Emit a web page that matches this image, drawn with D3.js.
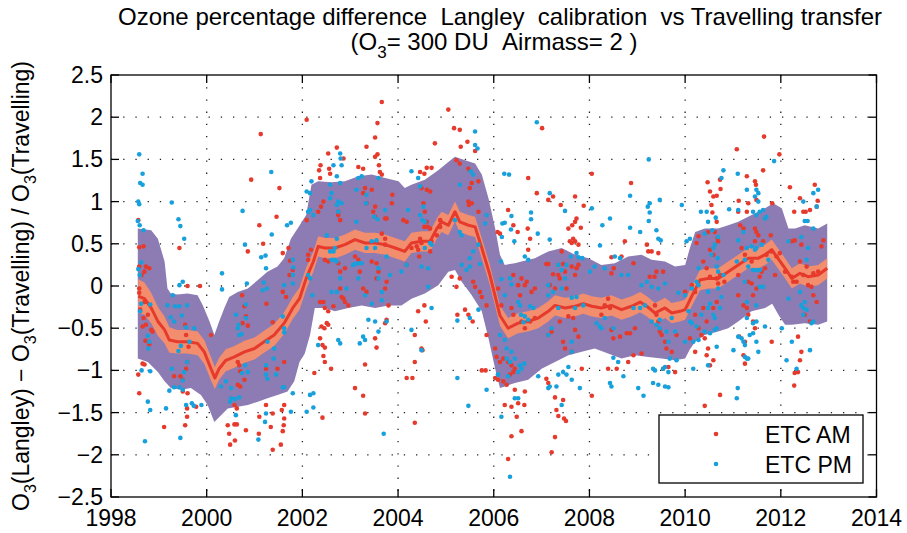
<!DOCTYPE html>
<html>
<head>
<meta charset="utf-8">
<script src="https://cdn.jsdelivr.net/npm/d3@7"></script>
<style>
  body { margin: 0; background: #fff; }
  text { font-family: "Liberation Sans", Arial, Helvetica, sans-serif; fill: #000; }
</style>
</head>
<body>
<script>
// median curve (running) and its narrow band
const medT = [1998.57,1998.70,1998.84,1998.98,1999.12,1999.22,1999.39,1999.60,1999.81,1999.95,2000.09,2000.17,2000.26,2000.40,2000.58,2000.79,2001.00,2001.20,2001.41,2001.62,2001.80,2001.94,2002.08,2002.23,2002.33,2002.47,2002.68,2002.89,2003.10,2003.31,2003.52,2003.73,2003.94,2004.14,2004.28,2004.49,2004.67,2004.81,2004.91,2005.05,2005.19,2005.29,2005.47,2005.61,2005.75,2005.92,2006.13,2006.30,2006.51,2006.72,2006.93,2007.14,2007.28,2007.49,2007.70,2007.87,2008.05,2008.25,2008.46,2008.67,2008.88,2009.06,2009.20,2009.37,2009.58,2009.72,2009.89,2010.00,2010.14,2010.31,2010.48,2010.69,2010.90,2011.11,2011.32,2011.53,2011.67,2011.81,2011.91,2012.09,2012.23,2012.40,2012.57,2012.78,2012.97]
const medV = [-0.12,-0.15,-0.26,-0.42,-0.52,-0.64,-0.66,-0.66,-0.68,-0.78,-0.98,-1.09,-0.98,-0.88,-0.84,-0.78,-0.74,-0.66,-0.58,-0.44,-0.26,-0.15,0.09,0.29,0.47,0.45,0.45,0.49,0.55,0.51,0.51,0.49,0.45,0.41,0.51,0.53,0.53,0.68,0.76,0.72,0.88,0.76,0.72,0.70,0.45,0.13,-0.35,-0.50,-0.44,-0.42,-0.38,-0.30,-0.23,-0.26,-0.24,-0.21,-0.24,-0.26,-0.23,-0.28,-0.24,-0.19,-0.24,-0.32,-0.26,-0.32,-0.30,-0.28,-0.12,0.07,0.09,0.09,0.17,0.25,0.33,0.33,0.37,0.43,0.35,0.21,0.09,0.15,0.11,0.13,0.21]
const medHalf = [0.20,0.19,0.18,0.17,0.16,0.15,0.14,0.14,0.14,0.14,0.14,0.13,0.13,0.13,0.13,0.13,0.13,0.13,0.13,0.13,0.13,0.13,0.13,0.12,0.12,0.12,0.12,0.12,0.12,0.12,0.12,0.12,0.12,0.12,0.12,0.12,0.12,0.12,0.12,0.12,0.12,0.12,0.12,0.12,0.12,0.12,0.12,0.12,0.12,0.12,0.12,0.12,0.12,0.12,0.12,0.12,0.12,0.12,0.12,0.12,0.12,0.12,0.12,0.12,0.12,0.12,0.12,0.12,0.12,0.12,0.12,0.12,0.12,0.12,0.12,0.12,0.12,0.12,0.12,0.12,0.12,0.12,0.12,0.12,0.12]

// wide band (upper and lower envelope)
const upT = [1998.56,1998.84,1998.98,1999.12,1999.18,1999.25,1999.39,1999.60,1999.81,1999.92,2000.06,2000.16,2000.26,2000.37,2000.47,2000.65,2000.86,2001.07,2001.27,2001.48,2001.62,2001.76,2001.90,2002.08,2002.19,2002.33,2002.61,2002.89,2003.17,2003.45,2003.73,2004.01,2004.14,2004.28,2004.56,2004.84,2005.05,2005.19,2005.40,2005.61,2005.75,2005.89,2006.03,2006.13,2006.23,2006.44,2006.58,2006.86,2007.14,2007.42,2007.70,2007.98,2008.25,2008.53,2008.81,2009.09,2009.30,2009.58,2009.79,2010.00,2010.10,2010.21,2010.41,2010.69,2010.90,2011.11,2011.39,2011.67,2011.84,2012.02,2012.16,2012.30,2012.50,2012.78,2012.97]
const upV = [0.68,0.66,0.56,0.29,-0.03,-0.09,-0.10,-0.09,-0.11,-0.23,-0.42,-0.58,-0.42,-0.26,-0.13,-0.07,-0.03,0.07,0.17,0.23,0.33,0.56,0.68,0.84,1.20,1.24,1.23,1.24,1.30,1.32,1.28,1.24,1.16,1.20,1.26,1.37,1.47,1.53,1.49,1.45,1.32,1.04,0.68,0.37,0.25,0.27,0.29,0.33,0.41,0.45,0.37,0.33,0.25,0.27,0.35,0.37,0.31,0.29,0.23,0.25,0.45,0.64,0.68,0.68,0.72,0.76,0.84,0.92,0.98,0.92,0.68,0.68,0.72,0.68,0.74]
const loT = [1998.56,1998.77,1998.98,1999.12,1999.25,1999.46,1999.67,1999.88,2000.02,2000.16,2000.30,2000.44,2000.65,2000.86,2001.07,2001.27,2001.48,2001.69,2001.83,2001.94,2002.05,2002.16,2002.26,2002.47,2002.68,2002.96,2003.24,2003.52,2003.80,2004.07,2004.28,2004.56,2004.84,2005.05,2005.19,2005.33,2005.54,2005.75,2005.89,2006.03,2006.13,2006.23,2006.44,2006.72,2007.00,2007.28,2007.56,2007.84,2008.11,2008.39,2008.67,2008.95,2009.23,2009.51,2009.79,2010.00,2010.10,2010.21,2010.41,2010.69,2010.90,2011.11,2011.39,2011.67,2011.82,2011.95,2012.09,2012.23,2012.50,2012.78,2012.97]
const loV = [-0.86,-0.90,-1.02,-1.13,-1.21,-1.23,-1.21,-1.29,-1.41,-1.61,-1.53,-1.45,-1.43,-1.41,-1.37,-1.33,-1.29,-1.25,-1.13,-0.90,-0.80,-0.58,-0.26,-0.26,-0.30,-0.26,-0.23,-0.26,-0.23,-0.23,-0.15,-0.09,0.01,0.17,0.19,0.05,-0.11,-0.30,-0.62,-0.98,-1.21,-1.19,-1.15,-1.11,-0.98,-0.90,-0.82,-0.78,-0.74,-0.80,-0.86,-0.82,-0.84,-0.86,-0.88,-0.86,-0.75,-0.66,-0.58,-0.54,-0.50,-0.42,-0.30,-0.26,-0.21,-0.34,-0.46,-0.46,-0.44,-0.46,-0.42]

// ETC AM points [year, difference]
const etcAM = [
[1998.57,0.78],[1998.59,0.46],[1998.68,0.47],[1998.59,0.23],[1998.70,0.17],[1998.64,0.13],[1998.73,0.23],[1998.80,0.21],[1998.59,-0.03],[1998.59,-0.08],[1998.61,-0.28],[1998.70,-0.19],[1998.77,-0.34],[1998.68,-0.38],[1998.66,-0.48],[1998.73,-0.46],[1998.84,-0.52],[1998.87,-0.54],[1998.72,-0.65],[1998.80,-0.69],[1998.66,-0.92],[1998.70,-0.93],[1998.57,-1.05],[1998.59,-1.27],[1999.43,0.45],[1999.60,0.00],[1999.86,0.00],[1999.11,-1.67],[1999.55,-1.65],[1999.59,-1.55],[1999.50,-1.25],[1999.60,-1.27],[1999.59,-1.45],[1999.32,-1.07],[1999.45,-1.07],[1999.50,-1.11],[1999.57,-0.98],[1999.59,-0.90],[1999.78,-1.43],[1999.62,-0.72],[1999.57,-0.58],[1999.55,-0.46],[2000.09,-0.58],[2000.93,1.26],[2001.13,1.80],[2001.52,1.16],[2001.46,0.82],[2001.10,0.72],[2001.18,0.50],[2000.86,0.41],[2001.59,0.39],[2001.71,0.45],[2001.74,0.30],[2001.73,0.13],[2001.80,0.19],[2001.66,-0.13],[2001.59,-0.07],[2001.25,-0.21],[2001.38,-0.43],[2000.74,-0.11],[2000.79,-0.24],[2000.82,-0.36],[2000.75,-0.44],[2000.86,-0.47],[2000.65,-0.90],[2000.68,-0.94],[2000.70,-1.01],[2000.65,-1.17],[2000.70,-1.19],[2000.79,-1.11],[2000.58,-1.41],[2000.63,-1.45],[2000.44,-1.65],[2000.58,-1.64],[2000.63,-1.64],[2000.47,-1.75],[2000.49,-1.88],[2000.59,-1.83],[2000.82,-1.71],[2001.09,-1.75],[2001.10,-1.55],[2001.34,-1.67],[2001.24,-0.98],[2001.48,-0.98],[2001.62,-0.90],[2001.62,-1.57],[2001.59,-1.72],[2001.55,-1.88],[2001.38,-1.94],[2001.57,-1.47],[2001.62,-1.41],[2001.61,-1.65],[2001.24,-1.41],[2001.38,-1.51],
[2003.66,2.18],[2002.09,1.97],[2005.05,2.09],[2003.57,1.93],[2005.17,1.87],[2005.29,1.85],[2003.52,1.76],[2003.34,1.65],[2002.72,1.64],[2002.54,1.57],[2002.86,1.51],[2004.77,1.69],[2005.31,1.65],[2005.45,1.71],[2005.61,1.60],[2003.52,1.53],[2003.57,1.56],[2002.38,1.43],[2002.35,1.37],[2002.37,1.28],[2002.56,1.39],[2002.58,1.33],[2003.17,1.41],[2003.27,1.39],[2003.60,1.43],[2003.62,1.35],[2003.66,1.32],[2003.31,1.16],[2003.45,1.14],[2004.46,1.35],[2004.55,1.33],[2004.60,1.40],[2004.70,1.40],[2004.49,1.16],[2004.60,1.14],[2004.67,1.12],[2005.22,1.49],[2005.29,1.45],[2005.47,1.39],[2005.68,1.24],[2005.54,1.22],[2005.50,1.16],[2002.09,0.78],[2002.33,0.88],[2002.39,0.94],[2002.44,1.00],[2002.75,0.84],[2002.79,0.78],[2002.75,0.88],[2003.27,1.10],[2003.34,0.98],[2003.52,0.94],[2003.48,0.88],[2003.52,0.82],[2003.73,0.80],[2003.76,0.80],[2003.87,0.98],[2003.88,1.08],[2004.11,0.78],[2004.18,0.76],[2004.53,0.98],[2004.56,0.88],[2004.60,0.76],[2004.55,0.70],[2004.62,0.70],[2004.67,0.68],[2004.88,0.78],[2004.88,0.70],[2005.47,1.00],[2005.48,0.96],[2005.54,0.98],[2005.68,0.88],[2002.12,0.37],[2002.18,0.43],[2002.12,0.31],[2002.47,0.31],[2002.54,0.29],[2002.75,0.27],[2002.89,0.21],[2002.79,0.17],[2003.10,0.35],[2003.17,0.31],[2003.20,0.17],[2003.45,0.29],[2003.55,0.27],[2003.59,0.17],[2003.76,0.05],[2003.66,0.62],[2003.73,0.56],[2003.73,0.49],[2004.18,0.25],[2004.28,0.45],[2004.39,0.47],[2004.42,0.43],[2004.44,0.35],[2004.46,0.56],[2004.49,0.51],[2004.67,0.41],[2004.70,0.53],[2004.81,0.60],[2005.12,0.11],[2005.22,-0.01],[2005.29,0.09],[2005.57,0.05],[2005.61,-0.01],[2005.71,-0.07],[2005.75,-0.13],[2005.85,-0.23],[2002.37,-0.19],[2002.44,-0.19],[2002.47,-0.26],[2002.54,-0.30],[2002.65,-0.24],[2002.79,-0.03],[2002.82,-0.13],[2002.86,-0.15],[2002.89,-0.19],[2002.96,-0.23],[2003.27,-0.03],[2003.34,-0.07],[2003.55,0.09],[2003.73,-0.03],[2003.80,-0.23],[2002.40,-0.48],[2002.46,-0.50],[2002.51,-0.44],[2002.54,-0.46],[2002.37,-0.62],[2002.42,-0.70],[2002.47,-0.73],[2002.44,-0.83],[2002.47,-0.90],[2002.25,-1.03],[2002.60,-0.98],[2003.73,-0.44],[2003.76,-0.40],[2003.52,-0.62],[2003.55,-0.73],[2003.31,-0.93],[2003.10,-1.21],[2003.27,-1.30],[2003.31,-1.51],[2002.42,-1.56],[2004.35,-0.58],[2004.49,-0.74],[2004.51,-0.76],[2004.35,-0.90],[2004.18,-1.09],[2004.30,-1.09],[2004.42,-0.30],[2004.55,-0.23],[2004.58,-0.42],[2005.24,-0.34],[2005.40,-0.28],[2005.47,-0.34],[2005.56,-0.42],[2005.75,-1.00],[2005.83,-1.00],[2005.85,-0.58],[2004.35,-1.62],
[2007.01,1.87],[2008.05,1.33],[2008.87,1.22],[2006.72,1.28],[2006.90,1.10],[2007.14,1.02],[2007.24,1.06],[2007.40,0.96],[2007.70,1.06],[2007.88,0.95],[2006.30,0.90],[2006.41,0.72],[2006.50,0.64],[2006.71,0.68],[2006.76,0.56],[2006.72,0.43],[2006.08,0.64],[2006.13,0.62],[2007.56,0.68],[2007.64,0.72],[2007.70,0.76],[2007.73,0.80],[2007.82,0.69],[2007.59,0.53],[2007.66,0.56],[2007.70,0.53],[2007.63,0.51],[2007.77,0.49],[2007.42,0.41],[2008.46,0.34],[2008.51,0.21],[2008.46,0.15],[2008.74,0.53],[2008.67,0.35],[2008.92,0.27],[2009.20,0.49],[2009.23,0.41],[2009.30,0.41],[2009.44,0.39],[2009.54,0.17],[2007.10,0.26],[2007.14,0.26],[2007.24,0.14],[2007.35,0.13],[2007.45,0.26],[2007.49,0.17],[2007.63,0.23],[2006.41,0.13],[2006.58,0.09],[2006.51,0.01],[2006.55,-0.11],[2006.65,0.01],[2006.69,0.05],[2006.79,-0.07],[2006.86,-0.03],[2007.17,0.01],[2007.28,-0.03],[2007.38,0.09],[2007.52,-0.03],[2007.70,0.13],[2007.73,0.21],[2007.77,0.25],[2006.16,-0.23],[2006.09,-0.03],[2006.37,-0.26],[2006.41,-0.34],[2006.58,-0.42],[2006.65,-0.50],[2006.76,-0.42],[2006.86,-0.38],[2007.14,-0.58],[2007.21,-0.54],[2007.45,-0.66],[2007.49,-0.74],[2007.63,-0.78],[2007.70,-0.52],[2007.77,-0.60],[2007.38,-0.42],[2007.56,-0.36],[2007.66,-0.38],[2008.25,-0.34],[2008.43,-0.26],[2008.46,-0.52],[2008.50,-0.62],[2008.64,-0.60],[2008.78,-0.56],[2008.85,-0.56],[2008.95,-0.50],[2008.32,-0.23],[2008.39,-0.15],[2009.37,-0.23],[2009.40,-0.34],[2009.44,-0.42],[2009.47,-0.54],[2009.51,-0.58],[2009.58,-0.66],[2009.61,-0.74],[2009.72,-0.78],[2009.82,-0.58],[2009.26,0.11],[2009.36,0.11],[2009.40,0.17],[2006.03,-0.74],[2006.06,-0.84],[2006.13,-0.90],[2006.20,-0.86],[2006.30,-0.90],[2006.37,-0.94],[2006.44,-0.98],[2006.34,-1.05],[2006.41,-1.02],[2006.03,-1.09],[2006.09,-1.11],[2006.20,-1.13],[2006.27,-1.17],[2006.44,-1.23],[2006.65,-1.25],[2006.23,-1.41],[2006.37,-1.43],[2006.51,-1.39],[2006.64,-1.41],[2006.48,-1.55],[2006.37,-1.78],[2006.58,-1.72],[2006.30,-2.05],[2007.10,-1.10],[2007.14,-1.15],[2007.28,-1.32],[2007.31,-1.47],[2007.35,-1.54],[2007.45,-1.35],[2007.47,-1.57],[2007.51,-1.60],[2007.28,-1.79],[2007.21,-1.97],[2007.84,-0.98],[2008.05,-1.30],[2008.39,-0.98],[2008.57,-0.98],[2008.81,-0.90],[2008.92,-0.82],[2009.09,-0.80],[2009.54,-0.98],[2009.65,-0.96],[2009.79,-1.02],
[2011.65,1.77],[2011.08,1.62],[2011.97,1.56],[2011.63,1.37],[2011.29,1.30],[2011.46,1.24],[2011.48,1.20],[2010.47,1.23],[2010.73,1.26],[2010.52,1.12],[2010.59,1.06],[2010.66,1.07],[2010.74,1.15],[2010.55,0.96],[2010.57,0.87],[2011.12,1.01],[2011.32,0.98],[2011.49,1.02],[2011.82,0.98],[2012.19,1.17],[2012.40,1.04],[2012.28,0.88],[2012.47,0.88],[2012.52,0.88],[2012.61,0.90],[2012.71,1.20],[2012.77,1.01],[2012.75,0.94],[2010.28,0.59],[2010.24,0.51],[2010.48,0.64],[2010.66,0.76],[2010.62,0.64],[2010.68,0.57],[2010.69,0.53],[2010.52,0.43],[2010.59,0.37],[2011.11,0.88],[2011.29,0.88],[2011.15,0.72],[2011.22,0.68],[2011.46,0.68],[2011.49,0.64],[2011.53,0.60],[2011.46,0.53],[2011.63,0.53],[2011.79,0.60],[2011.18,0.45],[2011.25,0.37],[2011.39,0.29],[2011.70,0.37],[2011.81,0.41],[2011.91,0.35],[2011.98,0.39],[2012.23,0.53],[2012.29,0.54],[2012.43,0.49],[2012.40,0.29],[2012.54,0.23],[2012.68,0.15],[2012.78,0.17],[2012.85,0.47],[2012.89,0.54],[2010.38,0.29],[2010.45,0.21],[2010.52,0.11],[2010.66,0.09],[2010.69,0.03],[2010.73,0.13],[2010.82,0.05],[2011.11,0.13],[2011.32,0.05],[2011.39,0.03],[2011.42,-0.11],[2011.49,-0.03],[2011.56,0.11],[2011.60,0.17],[2011.67,0.21],[2011.88,0.13],[2012.09,0.17],[2012.23,0.11],[2012.26,0.05],[2012.33,0.05],[2012.47,0.13],[2012.57,0.01],[2012.64,-0.01],[2012.68,-0.11],[2012.75,-0.19],[2010.00,-0.07],[2010.14,0.01],[2010.21,-0.07],[2010.38,-0.26],[2010.45,-0.42],[2010.59,-0.26],[2010.66,-0.19],[2011.11,-0.11],[2011.22,-0.23],[2011.29,-0.26],[2011.32,-0.34],[2011.42,-0.42],[2011.46,-0.50],[2010.21,-0.34],[2010.28,-0.50],[2010.10,-0.62],[2010.21,-0.78],[2010.34,-0.58],[2010.48,-0.74],[2010.52,-0.94],[2010.59,-0.88],[2010.45,-0.82],[2010.41,-0.62],[2011.22,-0.82],[2011.25,-0.92],[2011.13,-0.60],[2011.25,-0.66],[2011.81,-0.66],[2012.36,-0.60],[2012.43,-0.78],[2012.40,-0.88],[2012.36,-1.02],[2012.29,-1.03],[2012.28,-1.18],[2012.50,-0.34],[2012.61,-0.42],[2010.73,-1.29],[2010.41,-1.42]
]

// ETC PM points [year, difference]
const etcPM = [
[1998.59,1.56],[1998.66,1.33],[1998.61,1.22],[1998.66,1.20],[1998.57,1.00],[1998.59,0.97],[1998.56,0.77],[1998.60,0.72],[1998.68,0.66],[1999.27,0.99],[1999.41,0.79],[1999.45,0.71],[1999.53,0.56],[1998.57,0.20],[1998.63,0.28],[1998.60,0.13],[1999.43,0.01],[1999.50,0.05],[1998.63,-0.21],[1998.82,-0.22],[1998.61,-0.30],[1999.29,-0.11],[1999.18,-0.23],[1999.34,-0.24],[1999.43,-0.24],[1999.59,-0.23],[1999.25,-0.37],[1999.48,-0.35],[1999.32,-0.42],[1999.57,-0.49],[1999.74,-0.50],[1998.77,-0.59],[1998.80,-0.66],[1998.78,-0.74],[1999.41,-0.77],[1999.46,-0.71],[1999.64,-0.66],[1998.64,-1.00],[1998.82,-1.01],[1999.27,-0.98],[1999.59,-0.90],[1999.53,-1.02],[1999.50,-1.12],[1999.32,-1.20],[1999.43,-1.20],[1999.22,-1.24],[1999.50,-1.23],[1999.57,-1.41],[1998.82,-1.47],[1998.77,-1.37],[1999.15,-1.45],[1999.69,-1.39],[1999.73,-1.42],[1999.89,-1.41],[1999.45,-1.80],[1998.71,-1.84],[2000.40,-1.13],[2000.30,-1.19],[2000.51,-1.21],[2000.32,0.15],[2000.32,-0.04],[2000.51,-1.33],[2000.59,-1.34],[2000.68,-1.32],[2000.49,-1.37],[2000.61,-0.34],[2000.67,-0.46],[2000.65,-0.50],[2000.73,-0.57],[2000.82,-0.38],[2000.84,0.03],[2000.82,-0.22],[2000.75,0.89],[2000.80,0.49],[2000.68,-0.58],[2000.80,-0.94],[2000.86,-1.02],[2000.74,-1.03],[2000.61,-1.53],[2001.24,-1.51],[2001.22,-1.61],[2001.08,-1.82],[2001.14,0.34],[2001.23,0.36],[2001.24,0.21],[2001.35,1.35],[2001.36,0.61],[2001.19,0.04],[2001.26,-0.03],[2001.17,-0.05],[2001.27,-0.66],[2001.41,-0.74],[2001.40,-0.86],[2001.24,-0.94],[2001.24,-1.05],[2001.27,-1.10],[2001.45,-1.05],[2001.59,-1.20],[2001.62,-1.20],[2001.80,-1.27],[2001.68,0.72],[2001.76,0.75],[2001.80,0.31],[2001.81,0.22],[2001.80,0.13],[2001.62,0.01],[2001.80,0.03],[2001.59,-0.36],[2001.62,-0.50],[2001.62,-0.55],[2001.76,-1.49],
[2005.61,1.83],[2005.61,1.67],[2005.66,1.63],[2002.79,1.57],[2002.80,1.51],[2002.65,1.43],[2002.82,1.43],[2002.72,1.30],[2002.79,1.22],[2004.28,1.36],[2004.42,1.28],[2004.46,1.18],[2005.29,1.20],[2005.52,1.36],[2005.57,1.32],[2002.58,1.20],[2002.61,1.10],[2002.58,1.04],[2002.75,1.00],[2002.72,0.96],[2002.82,0.98],[2002.75,0.88],[2002.16,1.10],[2002.09,1.12],[2002.19,1.24],[2003.13,1.14],[2003.24,1.30],[2003.17,1.28],[2003.34,1.08],[2003.33,0.98],[2003.59,1.28],[2003.73,0.90],[2003.50,0.82],[2003.57,0.79],[2003.13,0.76],[2002.72,0.56],[2002.51,0.60],[2002.12,0.88],[2002.16,0.90],[2002.23,0.84],[2004.21,0.90],[2004.46,0.84],[2004.51,0.78],[2004.56,0.76],[2004.53,0.94],[2005.19,0.78],[2005.29,0.64],[2005.33,0.60],[2005.82,0.74],[2005.85,0.84],[2002.58,0.41],[2002.65,0.41],[2002.68,0.45],[2002.61,0.31],[2002.67,0.31],[2002.72,0.29],[2003.06,0.25],[2003.10,0.26],[2003.17,0.27],[2003.24,0.27],[2003.34,0.45],[2003.45,0.53],[2003.52,0.45],[2003.55,0.54],[2003.76,0.35],[2003.83,0.13],[2004.07,0.17],[2004.18,0.25],[2004.49,0.23],[2004.63,0.21],[2004.56,0.45],[2004.70,0.49],[2004.67,0.51],[2005.50,0.33],[2005.57,0.41],[2005.68,0.49],[2005.71,0.26],[2005.33,0.25],[2005.43,0.19],[2005.50,0.23],[2002.12,0.13],[2002.16,0.09],[2002.21,-0.11],[2002.61,-0.07],[2002.72,-0.07],[2002.79,0.09],[2002.92,-0.03],[2003.17,0.09],[2003.59,0.09],[2003.59,0.21],[2003.66,-0.07],[2003.31,-0.11],[2003.45,-0.21],[2003.66,-0.17],[2004.63,-0.01],[2004.70,-0.26],[2005.50,-0.38],[2005.68,-0.28],[2003.38,-0.40],[2003.52,-0.42],[2003.59,-0.54],[2003.76,-0.42],[2003.27,-0.60],[2003.31,-0.64],[2003.20,-0.68],[2002.75,-0.64],[2002.79,-0.68],[2002.33,-0.70],[2004.28,-0.52],[2004.49,-0.76],[2005.24,-0.41],[2005.24,-1.09],[2005.85,-1.23],[2005.47,-1.42],[2006.09,-1.05],[2002.16,-1.29],[2002.23,-1.27],[2002.23,-1.44],[2002.09,-1.49],[2003.70,-1.75],
[2006.90,1.94],[2009.24,1.50],[2006.22,1.33],[2006.32,1.32],[2007.17,1.10],[2006.78,0.87],[2006.78,0.79],[2006.37,0.83],[2006.18,0.74],[2006.23,0.75],[2006.17,0.58],[2006.36,0.67],[2006.43,0.53],[2006.92,0.62],[2007.17,0.55],[2007.49,0.89],[2008.05,0.92],[2008.43,0.80],[2008.27,0.72],[2008.22,0.48],[2008.85,1.07],[2008.85,0.69],[2009.06,0.64],[2009.26,0.98],[2009.26,0.87],[2009.24,0.77],[2009.22,0.94],[2009.47,1.02],[2009.40,0.66],[2009.44,0.56],[2009.49,0.54],[2009.93,0.96],[2010.03,0.53],[2006.65,0.35],[2006.72,0.31],[2006.15,0.29],[2006.16,0.08],[2006.34,0.09],[2006.37,0.02],[2006.23,-0.11],[2006.51,-0.19],[2006.55,-0.23],[2006.57,-0.34],[2006.62,-0.43],[2006.65,-0.36],[2006.72,-0.40],[2006.76,-0.24],[2006.83,-0.26],[2007.14,0.01],[2007.14,-0.11],[2007.24,-0.07],[2007.35,0.25],[2007.42,0.19],[2007.52,0.25],[2007.61,0.35],[2007.73,0.39],[2007.77,0.34],[2007.85,0.33],[2008.01,0.17],[2008.11,0.23],[2008.32,0.21],[2008.53,0.35],[2008.64,0.33],[2008.67,0.13],[2008.81,0.13],[2009.09,0.01],[2009.20,0.05],[2009.30,-0.01],[2009.44,-0.03],[2009.58,0.03],[2009.86,-0.08],[2010.07,-0.30],[2007.42,-0.03],[2007.49,0.09],[2007.63,-0.14],[2007.70,-0.26],[2007.73,-0.13],[2007.87,-0.23],[2007.35,-0.26],[2007.21,-0.50],[2007.14,-0.58],[2008.15,-0.44],[2008.22,-0.48],[2008.25,-0.50],[2008.32,-0.38],[2008.50,-0.50],[2008.92,-0.26],[2009.06,-0.26],[2009.16,-0.23],[2009.30,-0.42],[2009.40,-0.46],[2009.47,-0.40],[2009.47,-0.50],[2009.61,-0.54],[2009.72,-0.38],[2009.79,-0.54],[2006.13,-0.58],[2006.23,-0.64],[2006.27,-0.74],[2006.37,-0.78],[2006.44,-0.86],[2006.55,-0.94],[2006.58,-0.98],[2006.64,-0.92],[2006.27,-0.86],[2006.34,-0.90],[2006.09,-1.05],[2006.30,-1.07],[2006.51,-1.02],[2006.93,-1.07],[2007.14,-1.21],[2007.17,-1.19],[2007.31,-1.19],[2007.35,-1.05],[2007.45,-1.02],[2007.52,-1.05],[2007.63,-1.11],[2007.56,-0.96],[2007.63,-0.66],[2007.63,-0.78],[2007.80,-1.21],[2008.50,-0.85],[2008.60,-0.90],[2008.43,-1.15],[2008.46,-1.19],[2008.71,-1.07],[2009.02,-1.21],[2009.13,-1.30],[2009.33,-0.98],[2009.37,-1.00],[2009.33,-1.15],[2009.44,-1.17],[2009.54,-0.98],[2009.58,-0.96],[2009.65,-1.02],[2009.65,-0.66],[2009.68,-0.86],[2009.82,-0.88],[2009.58,-1.19],[2009.65,-1.20],[2006.44,-1.33],[2006.51,-1.33],[2006.16,-1.55],[2007.42,-1.41],[2006.34,-2.26],
[2011.86,1.48],[2011.10,1.33],[2010.80,1.37],[2010.76,1.28],[2011.29,1.14],[2011.49,1.14],[2011.53,1.10],[2011.46,1.06],[2011.53,1.00],[2011.56,0.88],[2011.42,0.88],[2011.49,0.84],[2010.33,0.88],[2010.45,0.88],[2010.64,0.81],[2010.48,0.76],[2010.57,0.66],[2010.41,0.62],[2010.92,0.91],[2011.11,0.90],[2011.63,0.90],[2011.67,0.80],[2011.70,0.82],[2012.47,1.00],[2012.50,0.77],[2012.56,0.77],[2012.68,1.10],[2012.78,1.14],[2012.75,0.94],[2012.68,0.68],[2010.10,0.56],[2010.69,0.58],[2010.62,0.49],[2010.59,0.45],[2010.55,0.37],[2010.68,0.33],[2011.11,0.54],[2011.22,0.64],[2011.29,0.45],[2011.39,0.47],[2011.46,0.43],[2011.49,0.45],[2011.60,0.49],[2012.16,0.53],[2012.43,0.58],[2012.57,0.45],[2012.54,0.31],[2010.28,0.21],[2010.66,0.23],[2010.69,0.17],[2010.80,0.13],[2011.08,0.29],[2011.25,0.31],[2011.32,0.23],[2011.42,0.19],[2011.49,0.19],[2011.56,0.19],[2011.74,0.31],[2010.14,-0.03],[2010.24,0.05],[2010.28,0.01],[2010.48,-0.07],[2010.52,-0.21],[2010.76,-0.13],[2010.69,-0.03],[2011.25,0.05],[2011.56,-0.01],[2011.63,-0.01],[2011.29,-0.19],[2011.49,-0.23],[2012.16,-0.15],[2012.40,-0.07],[2012.43,-0.23],[2012.50,-0.19],[2012.47,-0.26],[2012.54,-0.28],[2012.47,-0.34],[2010.00,-0.11],[2010.10,-0.42],[2010.14,-0.44],[2010.24,-0.48],[2010.34,-0.34],[2010.48,-0.26],[2010.59,-0.34],[2010.62,-0.38],[2010.73,-0.26],[2011.29,-0.38],[2011.42,-0.44],[2011.49,-0.42],[2011.67,-0.48],[2010.00,-0.66],[2010.17,-0.66],[2010.28,-0.64],[2010.41,-0.54],[2010.52,-0.56],[2010.62,-0.52],[2010.66,-0.50],[2011.11,-0.60],[2011.18,-0.62],[2011.22,-0.66],[2011.25,-0.70],[2011.35,-0.58],[2011.42,-0.56],[2011.49,-0.66],[2011.53,-0.78],[2011.25,-0.84],[2011.29,-0.86],[2011.32,-0.86],[2010.66,-0.72],[2010.48,-0.94],[2010.17,-0.98],[2011.01,-0.76],[2011.10,-1.21],[2011.08,-1.33],[2012.02,-0.50],[2012.12,-0.88],[2012.23,-0.66],[2012.61,-0.76],[2012.64,-0.44],[2012.68,-0.42],[2012.33,-0.98]
]

const xTicks = [1998, 2000, 2002, 2004, 2006, 2008, 2010, 2012, 2014]
const yTicks = [-2.5, -2, -1.5, -1, -0.5, 0, 0.5, 1, 1.5, 2, 2.5]
const legendLabels = ["ETC AM", "ETC PM"]

const W = 907, H = 533
const axL = 111, axR = 876.5, axT = 75, axB = 497

const svg = d3.select("body").append("svg")
    .attr("width", W)
    .attr("height", H)

const x = d3.scaleLinear().domain([1998, 2014]).range([axL, axR])
const y = d3.scaleLinear().domain([-2.5, 2.5]).range([axB, axT])

const purple = "#8d7bb3"
const salmon = "#f28d6e"
const red = "#e63a2c"
const blue = "#17a0dc"

// dotted grid
const grid = svg.append("g")
grid.selectAll("line.vx")
    .data(xTicks.slice(1, -1))
    .enter().append("line")
    .attr("x1", d => x(d)).attr("x2", d => x(d))
    .attr("y1", axT).attr("y2", axB)
    .attr("stroke", "#222").attr("stroke-width", 1.3)
    .attr("stroke-dasharray", "1.3,10.9")
grid.selectAll("line.hy")
    .data(yTicks.slice(1, -1))
    .enter().append("line")
    .attr("x1", axL).attr("x2", axR)
    .attr("y1", d => y(d)).attr("y2", d => y(d))
    .attr("stroke", "#222").attr("stroke-width", 1.3)
    .attr("stroke-dasharray", "1.3,10.9")

// wide band: upper edge forward, lower edge back
const bandPts = upT.map((t, i) => [t, upV[i]])
    .concat(loT.map((t, i) => [t, loV[i]]).reverse())
svg.append("path")
    .attr("d", d3.line().x(d => x(d[0])).y(d => y(d[1]))(bandPts) + "Z")
    .attr("fill", purple)

// narrow band round the median
const medRows = medT.map((t, i) => ({t: t, v: medV[i], h: medHalf[i]}))
svg.append("path")
    .attr("d", d3.area()
        .x(d => x(d.t))
        .y0(d => y(d.v - d.h))
        .y1(d => y(d.v + d.h))(medRows))
    .attr("fill", salmon)

svg.append("path")
    .attr("d", d3.line().x(d => x(d.t)).y(d => y(d.v))(medRows))
    .attr("fill", "none")
    .attr("stroke", red)
    .attr("stroke-width", 3)
    .attr("stroke-linejoin", "round")

// scatter
svg.append("g").selectAll("circle")
    .data(etcAM)
    .enter().append("circle")
    .attr("cx", d => x(d[0])).attr("cy", d => y(d[1]))
    .attr("r", 2.3).attr("fill", red)
svg.append("g").selectAll("circle")
    .data(etcPM)
    .enter().append("circle")
    .attr("cx", d => x(d[0])).attr("cy", d => y(d[1]))
    .attr("r", 2.3).attr("fill", blue)

// axes box with inward ticks on all four sides
const box = svg.append("g")
box.append("rect")
    .attr("x", axL).attr("y", axT)
    .attr("width", axR - axL).attr("height", axB - axT)
    .attr("fill", "none").attr("stroke", "#000").attr("stroke-width", 1.3)

const tickLen = 8
xTicks.forEach(t => {
    box.append("line").attr("x1", x(t)).attr("x2", x(t))
        .attr("y1", axB).attr("y2", axB - tickLen).attr("stroke", "#000").attr("stroke-width", 1.3)
    box.append("line").attr("x1", x(t)).attr("x2", x(t))
        .attr("y1", axT).attr("y2", axT + tickLen).attr("stroke", "#000").attr("stroke-width", 1.3)
})
yTicks.forEach(v => {
    box.append("line").attr("x1", axL).attr("x2", axL + tickLen)
        .attr("y1", y(v)).attr("y2", y(v)).attr("stroke", "#000").attr("stroke-width", 1.3)
    box.append("line").attr("x1", axR).attr("x2", axR - tickLen)
        .attr("y1", y(v)).attr("y2", y(v)).attr("stroke", "#000").attr("stroke-width", 1.3)
})

const fmtY = d => (d < 0 ? "\u2212" : "") + Math.abs(d)

svg.append("g").selectAll("text")
    .data(xTicks)
    .enter().append("text")
    .attr("x", d => x(d)).attr("y", 526)
    .attr("text-anchor", "middle")
    .style("font-size", "23px")
    .text(d => d)

svg.append("g").selectAll("text")
    .data(yTicks)
    .enter().append("text")
    .attr("x", 103).attr("y", d => y(d) + 8)
    .attr("text-anchor", "end")
    .style("font-size", "23px")
    .text(fmtY)

// title (double gaps kept with no-break spaces)
const nb = "\u00a0"
const title = svg.append("g")
title.append("text")
    .attr("x", 500).attr("y", 25)
    .attr("text-anchor", "middle")
    .style("font-size", "24px")
    .text(`Ozone percentage difference ${nb}Langley ${nb}calibration ${nb}vs Travelling transfer`)
const t2 = title.append("text")
    .attr("x", 494).attr("y", 50)
    .attr("text-anchor", "middle")
    .style("font-size", "24px")
t2.append("tspan").text("(O")
t2.append("tspan").attr("dy", 8).style("font-size", "17px").text("3")
t2.append("tspan").attr("dy", -8).text(`= 300 DU ${nb}Airmass= 2 )`)

// y label with subscripts
const yl = svg.append("text")
    .attr("transform", `translate(29,${(axT + axB) / 2}) rotate(-90)`)
    .attr("text-anchor", "middle")
    .style("font-size", "23px")
const ylParts = [["O", "3", "(Langley) \u2212 O"], ["", "3", "(Travelling) / O"], ["", "3", "(Travelling)"]]
ylParts.forEach(p => {
    if (p[0]) yl.append("tspan").text(p[0])
    yl.append("tspan").attr("dy", 7).style("font-size", "16px").text(p[1])
    yl.append("tspan").attr("dy", -7).text(p[2])
})

// legend
const leg = svg.append("g")
leg.append("rect")
    .attr("x", 659).attr("y", 415)
    .attr("width", 204).attr("height", 68)
    .attr("fill", "#fff").attr("stroke", "#000").attr("stroke-width", 1.3)
leg.selectAll("circle")
    .data(legendLabels)
    .enter().append("circle")
    .attr("cx", 716).attr("cy", (d, i) => 434 + i * 30)
    .attr("r", 2.3)
    .attr("fill", (d, i) => i === 0 ? red : blue)
leg.selectAll("text")
    .data(legendLabels)
    .enter().append("text")
    .attr("x", 765).attr("y", (d, i) => 443 + i * 30)
    .style("font-size", "23px")
    .text(d => d)
</script>
</body>
</html>
